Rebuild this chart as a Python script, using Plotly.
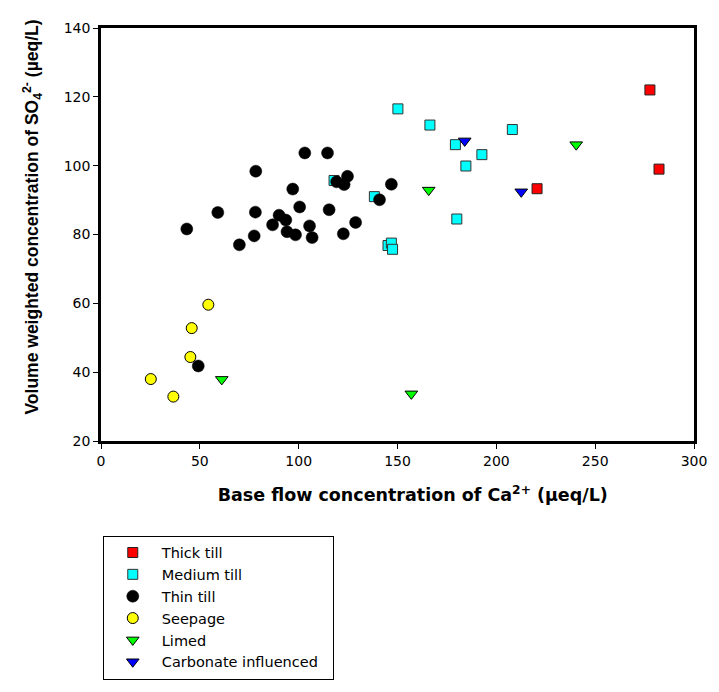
import plotly.graph_objects as go

thick_x = [277.7, 282.3, 220.6]
thick_y = [122.0, 99.0, 93.3]

medium_x = [150.2, 166.4, 208.1, 179.3, 192.7, 184.6, 117.9, 138.3, 180.0, 145.2, 146.9, 147.5]
medium_y = [116.5, 111.8, 110.5, 106.1, 103.2, 99.9, 95.7, 91.0, 84.5, 76.8, 77.5, 75.7]

thin_x = [43.4, 59.1, 103.1, 114.6, 78.3, 124.7, 119.2, 123.0, 97.0, 140.9, 100.5, 115.4, 78.1,
          90.1, 93.5, 86.8, 128.8, 105.5, 94.1, 98.4, 122.6, 106.8, 77.5, 70.0, 146.9, 49.2]
thin_y = [81.6, 86.4, 103.7, 103.7, 98.4, 96.9, 95.3, 94.5, 93.2, 90.1, 88.0, 87.2, 86.5,
          85.6, 84.2, 82.8, 83.5, 82.5, 80.8, 79.9, 80.2, 79.1, 79.6, 77.0, 94.6, 41.8]

seep_x = [54.3, 45.9, 45.2, 25.2, 36.6]
seep_y = [59.6, 52.8, 44.4, 38.0, 32.9]

limed_x = [240.4, 165.8, 157.0, 61.1]
limed_y = [106.1, 92.9, 33.7, 37.9]

carb_x = [184.0, 212.6]
carb_y = [107.2, 92.4]

x_ticks = [0, 50, 100, 150, 200, 250, 300]
y_ticks = [20, 40, 60, 80, 100, 120, 140]

ARIAL = "Liberation Sans, Arial, sans-serif"
WIDE = "DejaVu Sans, Verdana, sans-serif"
NB = "\u00a0"

fig = go.Figure()
fig.add_trace(go.Scatter(x=thick_x, y=thick_y, mode="markers", name="Thick till",
                         marker=dict(symbol="square", size=10, color="#FF0000",
                                     line=dict(color="#222222", width=1))))
fig.add_trace(go.Scatter(x=medium_x, y=medium_y, mode="markers", name="Medium till",
                         marker=dict(symbol="square", size=10, color="#00FFFF",
                                     line=dict(color="#333333", width=1))))
fig.add_trace(go.Scatter(x=thin_x, y=thin_y, mode="markers", name="Thin till",
                         marker=dict(symbol="circle", size=12, color="#000000",
                                     line=dict(color="#000000", width=0.5))))
fig.add_trace(go.Scatter(x=seep_x, y=seep_y, mode="markers", name="Seepage",
                         marker=dict(symbol="circle", size=11, color="#FFFF00",
                                     line=dict(color="#000000", width=1))))
fig.add_trace(go.Scatter(x=limed_x, y=limed_y, mode="markers", name="Limed",
                         marker=dict(symbol="triangle-down", size=11, color="#00FF00",
                                     line=dict(color="#000000", width=1))))
fig.add_trace(go.Scatter(x=carb_x, y=carb_y, mode="markers",
                         name="Carbonate influenced" + NB * 2,
                         marker=dict(symbol="triangle-down", size=11, color="#0000FF",
                                     line=dict(color="#000000", width=1))))

fig.update_layout(
    width=719, height=692,
    margin=dict(l=101, r=16, t=28, b=242),
    paper_bgcolor="white", plot_bgcolor="white",
    font=dict(family=ARIAL, size=14, color="black"),
    showlegend=True,
    legend=dict(x=0.003, y=-0.229, xanchor="left", yanchor="top",
                bordercolor="black", borderwidth=1, bgcolor="white",
                font=dict(family=WIDE, size=14.5), itemwidth=48,
                tracegroupgap=0),
    xaxis=dict(range=[0, 300], tickvals=x_ticks, ticks="outside", ticklen=5,
               tickwidth=1, tickcolor="black", showline=True, linecolor="black",
               linewidth=2.5, mirror=True, showgrid=False, zeroline=False,
               tickfont=dict(size=14, family=WIDE),
               title=dict(text="<b>" + NB * 5 + "Base flow concentration of Ca<sup>2+</sup> (µeq/L)</b>",
                          font=dict(size=17.5, family=WIDE), standoff=22)),
    yaxis=dict(range=[20, 140], tickvals=y_ticks, ticks="outside", ticklen=5,
               tickwidth=1, tickcolor="black", showline=True, linecolor="black",
               linewidth=2.5, mirror=True, showgrid=False, zeroline=False,
               tickfont=dict(size=14, family=WIDE)),
    annotations=[dict(
        text="<b>Volume weighted concentration of SO<sub>4</sub><sup>2-</sup> (µeq/L)</b>",
        xref="paper", yref="y", x=-0.116, y=85, xanchor="center", yanchor="middle",
        textangle=-90, showarrow=False, font=dict(size=17.5, family=ARIAL))],
)

fig.write_html("out.html")
